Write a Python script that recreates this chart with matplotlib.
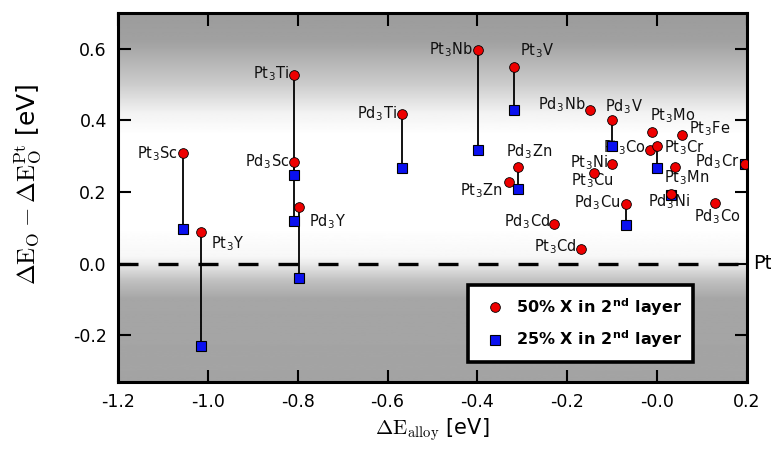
import numpy as np
import matplotlib
matplotlib.use("Agg")
import matplotlib.pyplot as plt
from matplotlib.lines import Line2D

plt.rcParams["font.family"] = "DejaVu Sans"
plt.rcParams["mathtext.fontset"] = "cm"

# alloys, alloy energy and O binding shift (50% / 25% X in 2nd layer)
alloys = ["Pt3Sc", "Pt3Y", "Pt3Ti", "Pd3Sc", "Pd3Y", "Pd3Ti", "Pt3Nb", "Pt3V",
          "Pd3Zn", "Pt3Zn", "Pd3Nb", "Pd3V", "Pt3Ni", "Pt3Cu", "Pd3Cu", "Pd3Cd",
          "Pt3Cd", "Pt3Mo", "Pt3Co", "Pt3Cr", "Pt3Fe", "Pt3Mn", "Pd3Ni", "Pd3Co",
          "Pd3Cr"]
e_alloy = [-1.056, -1.016, -0.808, -0.808, -0.797, -0.569, -0.399, -0.319,
           -0.309, -0.330, -0.149, -0.100, -0.100, -0.140, -0.070, -0.230,
           -0.170, -0.011, -0.016, 0.000, 0.055, 0.040, 0.030, 0.129,
           0.196]
de_50 = [0.308, 0.089, 0.528, 0.283, 0.159, 0.417, 0.598, 0.549,
         0.270, 0.228, 0.428, 0.400, 0.279, 0.253, 0.166, 0.111,
         0.041, 0.369, 0.318, 0.328, 0.359, 0.270, 0.196, 0.169,
         0.279]
de_25 = [0.098, -0.230, 0.119, 0.249, -0.040, 0.268, 0.318, 0.428,
         0.208, None, None, 0.329, None, None, 0.109, None,
         None, None, None, 0.268, None, None, 0.191, None,
         0.279]

# label placement: offset in pixels from the circle, alignment
label_pos = {
    "Pt3Sc": (-5, 0, "right"), "Pt3Y": (10, -12, "left"),
    "Pt3Ti": (-5, 1, "right"), "Pd3Sc": (-5, 1, "right"),
    "Pd3Y": (10, -15, "left"), "Pd3Ti": (-5, 1, "right"),
    "Pt3Nb": (-5, 0, "right"), "Pt3V": (6, 16, "left"),
    "Pd3Zn": (11, 15, "center"), "Pt3Zn": (-6, -9, "right"),
    "Pd3Nb": (-5, 6, "right"), "Pd3V": (12, 14, "center"),
    "Pt3Ni": (-4, 1, "right"), "Pt3Cu": (-2, -8, "center"),
    "Pd3Cu": (-5, 2, "right"), "Pd3Cd": (-4, 2, "right"),
    "Pt3Cd": (-4, 2, "right"), "Pt3Mo": (20, 16, "center"),
    "Pt3Co": (-4, 2, "right"), "Pt3Cr": (7, -1, "left"),
    "Pt3Fe": (7, 6, "left"), "Pt3Mn": (11, -11, "center"),
    "Pd3Ni": (-2, -8, "center"), "Pd3Co": (2, -14, "center"),
    "Pd3Cr": (-6, 2, "right"),
}

xlim = (-1.2, 0.2)
ylim = (-0.33, 0.70)

fig = plt.figure(figsize=(7.71, 4.55), dpi=100)
ax = fig.add_axes([0.153, 0.1604, 0.816, 0.811])

# grey-white-grey background shading
yy = np.linspace(ylim[0], ylim[1], 400)
shade = np.interp(yy, [-0.33, -0.10, -0.05, 0.0, 0.02, 0.10, 0.36, 0.42, 0.50, 0.62, 0.70],
                  [0.64, 0.65, 0.75, 0.92, 0.97, 1.0, 1.0, 0.95, 0.80, 0.63, 0.61])
ax.imshow(shade[:, None], extent=[xlim[0], xlim[1], ylim[0], ylim[1]], origin="lower",
          aspect="auto", cmap="gray", vmin=0, vmax=1, zorder=0)

ax.axhline(0, color="black", lw=2.4, dashes=(6, 6), zorder=1)

for x, a, b in zip(e_alloy, de_50, de_25):
    if b is not None:
        ax.plot([x, x], [a, b], color="black", lw=1.3, zorder=2)

sq_x = [x for x, b in zip(e_alloy, de_25) if b is not None]
sq_y = [b for b in de_25 if b is not None]
ax.plot(sq_x, sq_y, ls="none", marker="s", ms=6.5, mfc="#0a10f0", mec="black", mew=0.8, zorder=4)
ax.plot(e_alloy, de_50, ls="none", marker="o", ms=7, mfc="#ee0000", mec="black", mew=0.6, zorder=5)

for name, x, y in zip(alloys, e_alloy, de_50):
    dx, dy, ha = label_pos[name]
    txt = name[:2] + r"$_\mathregular{3}$" + name[3:]
    ax.annotate(txt, (x, y), xytext=(dx, dy), textcoords="offset pixels",
                ha=ha, va="center", fontsize=10.5, color="#111111", zorder=3)

ax.annotate("Pt", xy=(1, 0), xycoords=("axes fraction", "data"), xytext=(4, 0),
            textcoords="offset points", ha="left", va="center", fontsize=14,
            annotation_clip=False)

ax.set_xlim(*xlim)
ax.set_ylim(*ylim)
ax.set_xticks(np.arange(-1.2, 0.21, 0.2))
ax.set_yticks([-0.2, 0.0, 0.2, 0.4, 0.6])
ax.xaxis.set_major_formatter(matplotlib.ticker.FormatStrFormatter("%.1f"))
ax.yaxis.set_major_formatter(matplotlib.ticker.FormatStrFormatter("%.1f"))
ax.tick_params(direction="in", length=9, width=1.5, top=True, right=True,
               labelsize=12.5, pad=8)
for s in ax.spines.values():
    s.set_linewidth(2.2)

ax.set_xlabel(r"$\Delta\mathrm{E}_{\mathrm{alloy}}$ [eV]", fontsize=15, labelpad=4)
ax.set_ylabel(r"$\Delta\mathrm{E}_{\mathrm{O}} - \Delta\mathrm{E}_{\mathrm{O}}^{\mathrm{Pt}}$ [eV]",
              fontsize=18)
ax.yaxis.set_label_coords(-0.118, 0.535)

handles = [
    Line2D([], [], ls="none", marker="o", ms=7, mfc="#ee0000", mec="black", mew=0.6),
    Line2D([], [], ls="none", marker="s", ms=6.5, mfc="#0a10f0", mec="black", mew=0.8),
]
leg = ax.legend(handles, [r"50% X in 2$^\mathregular{nd}$ layer", r"25% X in 2$^\mathregular{nd}$ layer"],
                loc="center", bbox_to_anchor=(0.735, 0.159), frameon=True, fancybox=False,
                framealpha=1, edgecolor="black", handletextpad=0.3, borderpad=0.7,
                labelspacing=0.7, prop={"weight": "bold", "size": 11.5})
leg.get_frame().set_linewidth(2.6)
leg.set_zorder(6)

fig.savefig("out.png", dpi=100)
